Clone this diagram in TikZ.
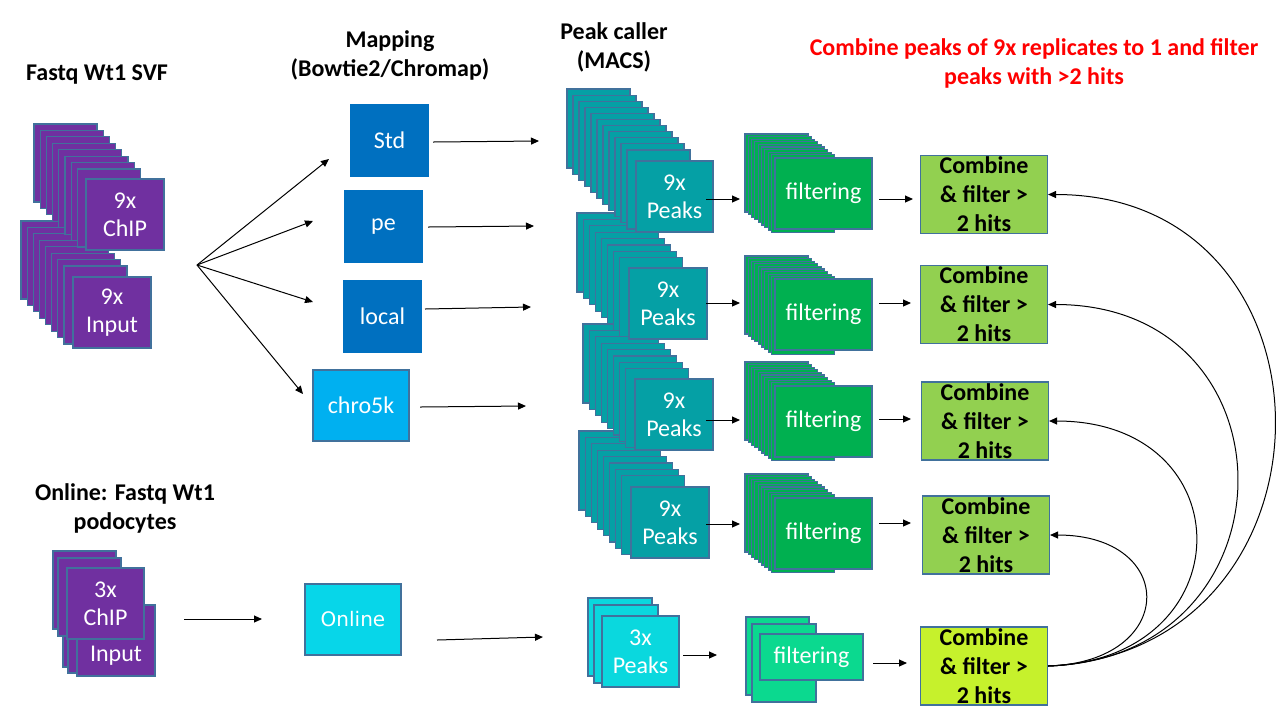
\documentclass[tikz,border=0pt]{standalone}
\usepackage{fontspec}
\setmainfont{Carlito}
\newfontfamily\dejavu{DejaVu Sans}
\usetikzlibrary{arrows.meta}
\definecolor{purp}{HTML}{7030A0}
\definecolor{bord}{HTML}{41719C}
\definecolor{mapblue}{HTML}{0070C0}
\definecolor{chroblue}{HTML}{00B0F0}
\definecolor{onlinecyan}{HTML}{07D6E9}
\definecolor{peakteal}{HTML}{05A0A5}
\definecolor{peakcyan}{HTML}{0AD8DE}
\definecolor{filtgreen}{HTML}{00B050}
\definecolor{filtmint}{HTML}{0BD98F}
\definecolor{combgreen}{HTML}{92D050}
\definecolor{combyellow}{HTML}{C6F12C}
\begin{document}
\begin{tikzpicture}[x=0.5pt,y=-0.5pt,
  sheet/.style={draw=bord, line width=0.55pt},
  box/.style={draw=bord, line width=0.55pt, text=white, align=center, inner sep=0pt,
    font=\fontsize{12}{14}\selectfont},
  sq/.style={box, minimum width=38.5pt, minimum height=35.5pt},
  wide/.style={box, minimum width=48pt, minimum height=35.5pt},
  filt/.style={box, fill=filtgreen, minimum width=48.5pt, minimum height=35.5pt},
  comb/.style={box, text=black, minimum width=63.5pt, minimum height=39pt,
    font=\fontsize{12}{14.5}\selectfont\bfseries},
  wtxt/.style={text=white, inner sep=0pt, font=\fontsize{12}{14}\selectfont},
  head/.style={align=center, inner sep=0pt, font=\fontsize{12}{14.5}\selectfont\bfseries},
  arr/.style={-{Triangle[length=4pt,width=3.5pt]}, line width=0.5pt},
]
\useasboundingbox (0,0) rectangle (1280,720);

% ---------------- headings ----------------
\node[head] (hfastq) at (97,75) {Fastq Wt1 SVF};
\node[head] (hmap) at (390,55) {Mapping\\(Bowtie2/Chromap)};
\node[head] (hpeak) at (614,47.5) {Peak caller\\(MACS)};
\node[head, text=red] (hcomb) at (1034,63.5) {Combine peaks of 9x replicates to 1 and filter\\peaks with >2 hits};
\node[head] (honl) at (125,508.5) {Online: Fastq Wt1\\podocytes};

% ---------------- left stacks ----------------
\foreach \i in {0,...,7}
  \filldraw[sheet, fill=purp] ({21+6.14*\i},{221+6.43*\i}) rectangle +(63,78);
\node[sq, fill=purp, minimum width=39pt] (inp) at (112,312.5) {9x\\Input};
\foreach \i in {0,...,7}
  \filldraw[sheet, fill=purp] ({34+6.2*\i},{124+6.43*\i}) rectangle +(63,78);
\node[sq, fill=purp, minimum width=39pt] (chip) at (125,214.5) {9x\\ChIP};

% 3x stacks
\filldraw[sheet, fill=purp] (63,589) rectangle +(63,78);
\filldraw[sheet, fill=purp] (68,595) rectangle +(63,78);
\node[sq, fill=purp, minimum width=39pt] (inp3) at (116,640.5) {};
\node[wtxt] (inp3t) at (116,656) {Input};
\filldraw[sheet, fill=purp] (53,551) rectangle +(63,78);
\filldraw[sheet, fill=purp] (58,558) rectangle +(63,78);
\node[sq, fill=purp] (chip3) at (105.5,603.5) {3x\\ChIP};

% ---------------- mapping ----------------
\node[sq, fill=mapblue, draw=mapblue] (std) at (389.5,140.5) {Std};
\node[sq, fill=mapblue, draw=mapblue] (pe) at (383.5,226.5) {pe};
\node[sq, fill=mapblue, draw=mapblue] (loc) at (382.5,316.5) {local};
\node[wide, fill=chroblue] (chro) at (361,405.5) {chro5k};
\node[wide, fill=onlinecyan, font=\dejavu\fontsize{10}{12}\selectfont] (onl) at (353,619.5) {Online};

\coordinate (fan) at (197,265);
\coordinate (fe1) at (329,159);
\coordinate (fe2) at (313,221);
\coordinate (fe3) at (313,302);
\coordinate (fe4) at (303,394);
\foreach \e in {fe1,fe2,fe3,fe4} \draw[arr] (fan) -- (\e);

\coordinate (is) at (184,619); \coordinate (ie) at (262,619);
\draw[arr] (is) -- (ie);

\coordinate (ms1) at (433,142); \coordinate (mt1) at (539,141);
\coordinate (ms2) at (428,227); \coordinate (mt2) at (534,226);
\coordinate (ms3) at (425,309); \coordinate (mt3) at (531,307);
\coordinate (ms4) at (420,407); \coordinate (mt4) at (526,406);
\coordinate (ms5) at (437,640); \coordinate (mt5) at (543,637);
\foreach \k in {1,...,5} \draw[arr] (ms\k) -- (mt\k);

% ---------------- peak stacks (bottom first) ----------------
\foreach \i in {0,...,7}
  \filldraw[sheet, fill=peakteal] ({579+6.1*\i},{431+6.4*\i}) rectangle +(63,79);
\node[sq, fill=peakteal, minimum width=39pt] (pk4) at (670,522.5) {9x\\Peaks};
\foreach \i in {0,...,7}
  \filldraw[sheet, fill=peakteal] ({583+6.1*\i},{324+6.4*\i}) rectangle +(63,79);
\node[sq, fill=peakteal, minimum width=39pt] (pk3) at (674,414.5) {9x\\Peaks};
\foreach \i in {0,...,7}
  \filldraw[sheet, fill=peakteal] ({577+6.1*\i},{213+6.4*\i}) rectangle +(63,79);
\node[sq, fill=peakteal, minimum width=39pt] (pk2) at (668,303.5) {9x\\Peaks};
\foreach \i in {0,...,10}
  \filldraw[sheet, fill=peakteal] ({567+6*\i},{89+6.1*\i}) rectangle +(63,79);
\node[sq, fill=peakteal] (pk1) at (674.5,196.5) {9x\\Peaks};

\filldraw[sheet, fill=peakcyan] (588,598) rectangle +(64,78);
\filldraw[sheet, fill=peakcyan] (594,605) rectangle +(64,78);
\node[sq, fill=peakcyan] (pk5) at (640.5,651.5) {3x\\Peaks};

% peaks -> filtering arrows
\coordinate (ps1) at (706,199); \coordinate (pt1) at (740,199);
\coordinate (ps2) at (706,303); \coordinate (pt2) at (740,303);
\coordinate (ps3) at (706,420); \coordinate (pt3) at (740,420);
\coordinate (ps4) at (706,524); \coordinate (pt4) at (740,524);
\coordinate (ps5) at (683,655); \coordinate (pt5) at (717,655);
\foreach \k in {1,...,5} \draw[arr] (ps\k) -- (pt\k);

% ---------------- filtering ----------------
\foreach \y/\c/\n in {134/193.5/f1, 256/314.5/f2, 362/421.5/f3, 474/533.5/f4}{
  \foreach \i in {0,...,8}
    \filldraw[sheet, fill=filtgreen] ({745+3.3*\i},{\y+2.6*\i}) rectangle +(63,78);
  \node[filt] (\n) at (823.5,\c) {filtering};
}
\filldraw[sheet, fill=filtmint] (746,617) rectangle +(63,78);
\filldraw[sheet, fill=filtmint] (752,624) rectangle +(64,78);
\node[box, fill=filtmint, minimum width=51.5pt, minimum height=23pt] (f5) at (811.5,657) {filtering};

% filtering -> combine arrows
\coordinate (fs1) at (879,199); \coordinate (ft1) at (913,199);
\coordinate (fs2) at (879,303); \coordinate (ft2) at (911,303);
\coordinate (fs3) at (879,419); \coordinate (ft3) at (911,419);
\coordinate (fs4) at (879,523); \coordinate (ft4) at (911,523);
\coordinate (fs5) at (873,663); \coordinate (ft5) at (907,663);
\foreach \k in {1,...,5} \draw[arr] (fs\k) -- (ft\k);

% ---------------- combine ----------------
\node[comb, fill=combgreen] (c1) at (984,194.5) {Combine\\\& filter >\\2 hits};
\node[comb, fill=combgreen] (c2) at (984,304.5) {Combine\\\& filter >\\2 hits};
\node[comb, fill=combgreen] (c3) at (985,421) {Combine\\\& filter >\\2 hits};
\node[comb, fill=combgreen] (c4) at (986,535) {Combine\\\& filter >\\2 hits};
\node[comb, fill=combyellow] (c5) at (984,666) {Combine\\\& filter >\\2 hits};

\draw[arr] (c5.east) .. controls (1350,652) and (1350,194.5) .. (c1.east);
\draw[arr] (c5.east) .. controls (1300,658) and (1300,304.5) .. (c2.east);
\draw[arr] (c5.east) .. controls (1245,660) and (1245,421) .. (c3.east);
\draw[arr] (c5.east) .. controls (1178,662) and (1178,535) .. (c4.east);
\end{tikzpicture}
\end{document}
